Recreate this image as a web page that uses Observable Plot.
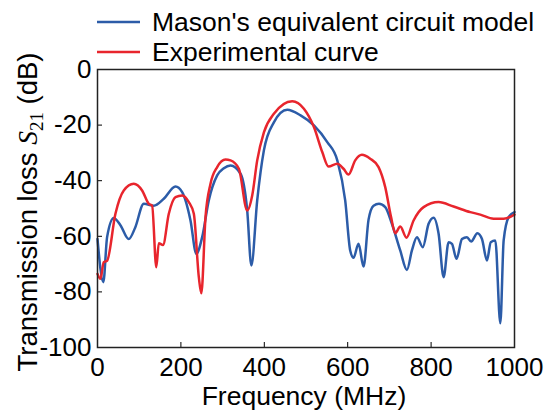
<!DOCTYPE html>
<html>
<head>
<meta charset="utf-8">
<script src="https://cdn.jsdelivr.net/npm/d3@7"></script>
<script src="https://cdn.jsdelivr.net/npm/@observablehq/plot@0.6"></script>
<style>
  html, body { margin: 0; padding: 0; background: #fff; }
  #chart { position: relative; width: 555px; height: 412px; }
</style>
</head>
<body>
<div id="chart"></div>
<script>
// Mason's equivalent circuit model (blue)
const masonFreq = [0,14,23,39,55,75,90,111,135,159,187,203,223,237,251,267,287,303,319,343,359,369,383,399,423,455,487,519,551,575,594,606,614,626,638,650,662,675,690,706,726,742,754,766,780,794,806,818,830,842,850,861,874,886,896,911,922,934,943,954,966,974,986,1000];
const masonDb   = [-61,-76.5,-60.3,-53.4,-56,-61,-57,-48.3,-49,-46.5,-42.1,-44.1,-54.3,-66.3,-60.3,-47,-38.1,-35.5,-34.5,-37.5,-50.7,-70.5,-47.1,-29.1,-19,-14.5,-16.5,-20.1,-26.1,-32.7,-47.1,-65.1,-67.7,-62.7,-70.9,-54,-49,-48.3,-49.5,-55.5,-65.1,-72.1,-65.1,-60.3,-63.9,-55.5,-53.3,-59.1,-74.7,-62.1,-62.7,-68.1,-61,-60.3,-61.9,-58.9,-61,-68.7,-62.1,-61.5,-91.3,-61.5,-53.1,-51.3];

// Experimental curve (red)
const expFreq = [0,7,15,23,43,63,87,107,123,131,141,147,157,171,187,203,219,231,243,249,259,271,287,307,319,339,359,371,383,399,423,467,495,519,539,554,575,590,602,618,634,654,674,690,704,714,726,741,758,782,818,854,894,918,950,974,1000];
const expDb   = [-73.5,-75.3,-69.3,-68.8,-51.9,-43.5,-41.1,-43.5,-48.3,-49,-71.1,-62.5,-63.1,-51.9,-45.9,-45.3,-47.7,-51.9,-74.7,-80.5,-53.1,-41.1,-35.1,-32.4,-32.7,-35.7,-50.7,-45.3,-32.7,-22.6,-15.9,-11.4,-14.1,-20.7,-29.7,-34.9,-33.9,-35.7,-37.8,-32.7,-30.7,-32.1,-35.1,-42.3,-53.1,-58.9,-56.5,-60.5,-54.3,-49.5,-47.7,-49.3,-51.3,-52.2,-53.7,-53.7,-52.2];

const seriesNames = ["Mason's equivalent circuit model", "Experimental curve"];
const seriesColors = ["#2c5ca8", "#e8252d"];
const xTicks = [0, 200, 400, 600, 800, 1000];
const yTicks = [0, -20, -40, -60, -80, -100];
const xLabel = "Frequency (MHz)";

const rows = [
  ...masonFreq.map((f, i) => ({series: seriesNames[0], f, db: masonDb[i]})),
  ...expFreq.map((f, i) => ({series: seriesNames[1], f, db: expDb[i]}))
];

const plot = Plot.plot({
  width: 555,
  height: 412,
  marginLeft: 97,
  marginRight: 41,
  marginTop: 69,
  marginBottom: 65,
  style: {fontFamily: "Arial, 'Liberation Sans', sans-serif", fontSize: "26px", color: "#000", background: "#fff"},
  x: {domain: [0, 1000], label: null},
  y: {domain: [-100, 0], label: null},
  color: {domain: seriesNames, range: seriesColors},
  marks: [
    Plot.axisX({ticks: xTicks, tickSize: -5, tickPadding: 15, label: null, tickFormat: d => String(d)}),
    Plot.axisY({ticks: yTicks, tickSize: -5, tickPadding: 11, label: null, tickFormat: d => String(d)}),
    Plot.line(rows, {x: "f", y: "db", z: "series", stroke: "series", strokeWidth: 2.5, curve: "monotone-x"}),
    Plot.frame({stroke: "#222", strokeWidth: 1.5})
  ]
});

document.getElementById("chart").appendChild(plot);

const svg = d3.select(plot);
const sans = "Arial, 'Liberation Sans', sans-serif";
const serif = "'Liberation Serif', 'Times New Roman', serif";

// Y axis label with italic S and subscript 21
const yl = svg.append("text")
  .attr("transform", "translate(37,212) rotate(-90)")
  .attr("text-anchor", "middle")
  .attr("font-family", sans)
  .attr("font-size", 27.5)
  .attr("fill", "#000");
yl.append("tspan").text("Transmission loss ");
yl.append("tspan").attr("font-family", serif).attr("font-style", "italic").text("S");
yl.append("tspan").attr("font-family", serif).attr("font-size", 19).attr("dy", 6).text("21");
yl.append("tspan").attr("dy", -6).text(" (dB)");

// X axis label
svg.append("text")
  .attr("x", 304)
  .attr("y", 405)
  .attr("text-anchor", "middle")
  .attr("font-family", sans)
  .attr("font-size", 26.5)
  .attr("fill", "#000")
  .text(xLabel);

// Legend
const legend = svg.append("g");
seriesNames.forEach((name, i) => {
  const y = 22 + i * 30;
  legend.append("line")
    .attr("x1", 97).attr("x2", 140).attr("y1", y).attr("y2", y)
    .attr("stroke", seriesColors[i]).attr("stroke-width", 2.5);
  legend.append("text")
    .attr("x", 152).attr("y", y + 8.5)
    .attr("text-anchor", "start")
    .attr("font-family", sans)
    .attr("font-size", 26.5)
    .attr("fill", "#000")
    .text(name);
});
</script>
</body>
</html>
